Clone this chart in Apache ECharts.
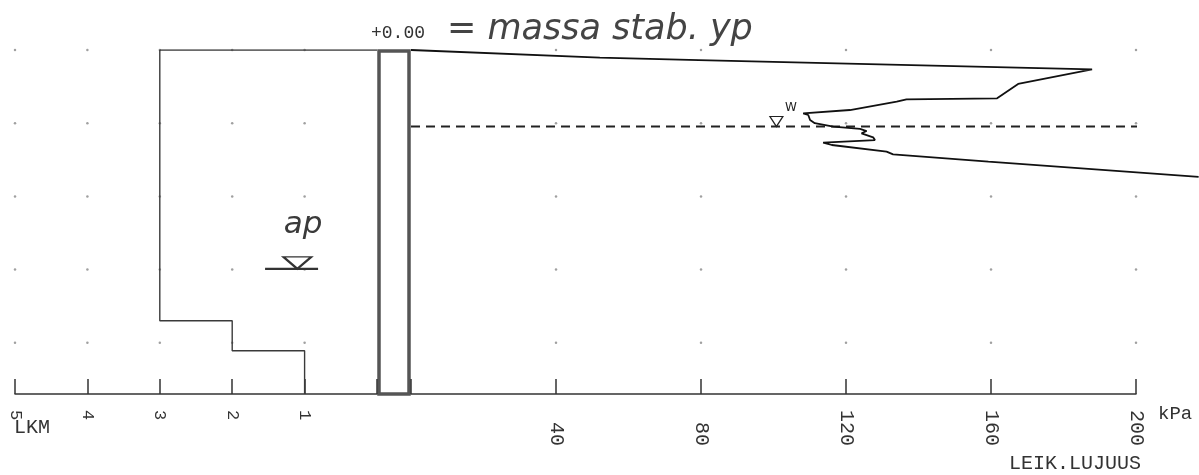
<!DOCTYPE html>
<html><head><meta charset="utf-8">
<script src="https://cdn.jsdelivr.net/npm/echarts@6/dist/echarts.min.js"></script>
<style>html,body{margin:0;padding:0;background:#fff}#c{width:1199px;height:475px}</style>
</head><body><div id="c"></div>
<script>
// ---- data ----
const lkmTicks = [5, 4, 3, 2, 1];
const kpaTicks = [40, 80, 120, 160, 200];
const depthRows = [0, 1, 2, 3, 4];
const lkmValues = [3, 2, 1];
const lkmLayerTops = [0, 3.70, 4.11];
const lkmLayerBottoms = [3.70, 4.11, 4.70];
const strengthKpa = [0, 52.1, 79.4, 187.9, 167.5, 161.7, 136.7, 134.0, 121.1, 108.2, 109.6, 110.1, 111.4, 116.5, 123.9, 125.7, 124.3, 127.5, 128.0, 113.7, 116.1, 131.2, 133.0, 159.3, 217.3];
const strengthDepth = [0, 0.105, 0.137, 0.266, 0.464, 0.660, 0.674, 0.706, 0.820, 0.865, 0.888, 0.956, 1.000, 1.048, 1.079, 1.107, 1.138, 1.193, 1.230, 1.266, 1.298, 1.389, 1.425, 1.526, 1.733];
const waterDepth = 1.045;
const waterLineEnd = 201;
const waterMarkKpa = 100.8;
const apDepth = 2.99;
const apMarkLkm = 1.10;
const apTextDepth = 2.39;
const depthMax = 4.7;
const kpaMax = 200;
const kpaOverflowMax = 217.4;

// ---- build ----
const mono = '"Liberation Mono", monospace';
const hand = '"DejaVu Sans", sans-serif';
const lkmLine = [[0, 0]];
lkmValues.forEach((v, i) => { lkmLine.push([v, lkmLayerTops[i]]); lkmLine.push([v, lkmLayerBottoms[i]]); });
const dotsLeft = [], dotsRight = [];
depthRows.forEach(d => { lkmTicks.forEach(v => dotsLeft.push([v, d])); kpaTicks.forEach(v => dotsRight.push([v, d])); });
const curve = strengthKpa.map((k, i) => [k, strengthDepth[i]]);

const kpaLeft = 411, kpaWidth = 725;
const axisBase = (gi) => ({
  gridIndex: gi, type: 'value',
  axisLine: { show: true, onZero: false, lineStyle: { color: '#333', width: 1.5 } },
  axisTick: { show: true, inside: true, length: 15, lineStyle: { color: '#333', width: 1.5 } },
  splitLine: { show: false }
});

const chart = echarts.init(document.getElementById('c'));
chart.setOption({
  animation: false,
  backgroundColor: '#fff',
  grid: [
    { left: 15, width: 362, top: 50, height: 344 },
    { left: kpaLeft, width: kpaWidth, top: 50, height: 344 },
    { left: 379, width: 30, top: 51, height: 343, show: true, borderColor: '#555', borderWidth: 3.5, backgroundColor: 'transparent' },
    { left: kpaLeft, width: kpaWidth * kpaOverflowMax / kpaMax, top: 50, height: 344 }
  ],
  xAxis: [
    Object.assign(axisBase(0), { min: 0, max: 5, interval: 1, inverse: true,
      axisLabel: { rotate: -90, margin: 16, fontFamily: mono, fontSize: 17, color: '#333', formatter: v => v === 0 ? '' : String(v) } }),
    Object.assign(axisBase(1), { min: 0, max: kpaMax, interval: 40,
      axisLabel: { rotate: -90, margin: 16, fontFamily: mono, fontSize: 20, color: '#333', formatter: v => v === 0 ? '' : String(v).padStart(3, ' ') } }),
    { gridIndex: 2, type: 'value', min: 0, max: 1, show: false },
    { gridIndex: 3, type: 'value', min: 0, max: kpaOverflowMax, show: false }
  ],
  yAxis: [
    { gridIndex: 0, type: 'value', min: 0, max: depthMax, inverse: true, show: false },
    { gridIndex: 1, type: 'value', min: 0, max: depthMax, inverse: true, show: false },
    { gridIndex: 2, type: 'value', min: 0, max: 1, show: false },
    { gridIndex: 3, type: 'value', min: 0, max: depthMax, inverse: true, show: false }
  ],
  series: [
    { type: 'scatter', xAxisIndex: 0, yAxisIndex: 0, data: dotsLeft, symbolSize: 2.5, itemStyle: { color: '#888' }, silent: true },
    { type: 'scatter', xAxisIndex: 1, yAxisIndex: 1, data: dotsRight, symbolSize: 2.5, itemStyle: { color: '#888' }, silent: true },
    { type: 'line', xAxisIndex: 0, yAxisIndex: 0, data: lkmLine, symbol: 'none', lineStyle: { color: '#3a3a3a', width: 1.4 }, silent: true,
      markPoint: { silent: true, data: [
        { coord: [apMarkLkm, apDepth], symbol: 'triangle', symbolRotate: 180, symbolSize: [28, 12], symbolOffset: [0, -6],
          itemStyle: { color: 'rgba(0,0,0,0)', borderColor: '#333', borderWidth: 2 }, label: { show: false } },
        { coord: [apMarkLkm + 0.08, apDepth], symbol: 'rect', symbolSize: [53, 2.2], itemStyle: { color: '#333' }, label: { show: false } },
        { coord: [1.02, apTextDepth], symbol: 'circle', symbolSize: 1, itemStyle: { color: 'rgba(0,0,0,0)' },
          label: { show: true, formatter: 'ap', position: 'inside', fontFamily: hand, fontStyle: 'italic', fontSize: 31, color: '#3a3a3a' } }
      ] } },
    { type: 'line', xAxisIndex: 1, yAxisIndex: 1, data: [[0, waterDepth], [waterLineEnd, waterDepth]], symbol: 'none', clip: false, silent: true,
      lineStyle: { color: '#222', width: 2, type: [9, 6] },
      markPoint: { silent: true, data: [
        { coord: [waterMarkKpa, waterDepth], symbol: 'triangle', symbolRotate: 180, symbolSize: [13, 10], symbolOffset: [0, -5],
          itemStyle: { color: '#fff', borderColor: '#222', borderWidth: 1.2 },
          label: { show: true, formatter: 'W', position: 'inside', offset: [14.5, -13.6], fontFamily: '"DejaVu Sans"', fontSize: 12, color: '#222' } }
      ] } },
    { type: 'line', xAxisIndex: 3, yAxisIndex: 3, data: curve, symbol: 'none', clip: false, silent: true,
      lineStyle: { color: '#111', width: 1.8 } }
  ],
  graphic: [
    { type: 'text', silent: true, style: { text: '+0.00', x: 371, y: 33, verticalAlign: 'middle', fontFamily: mono, fontSize: 18, fill: '#333' } },
    { type: 'text', silent: true, style: { text: '= massa stab. yp', x: 447, y: 30, verticalAlign: 'middle', fontFamily: hand, fontStyle: 'italic', fontSize: 35, fill: '#444' } },
    { type: 'text', silent: true, style: { text: 'LKM', x: 14, y: 428, verticalAlign: 'middle', fontFamily: mono, fontSize: 20, fill: '#333' } },
    { type: 'text', silent: true, style: { text: 'kPa', x: 1158, y: 414, verticalAlign: 'middle', fontFamily: mono, fontSize: 19, fill: '#333' } },
    { type: 'text', silent: true, style: { text: 'LEIK.LUJUUS', x: 1009, y: 463.5, verticalAlign: 'middle', fontFamily: mono, fontSize: 20, fill: '#333' } }
  ]
});
</script></body></html>
